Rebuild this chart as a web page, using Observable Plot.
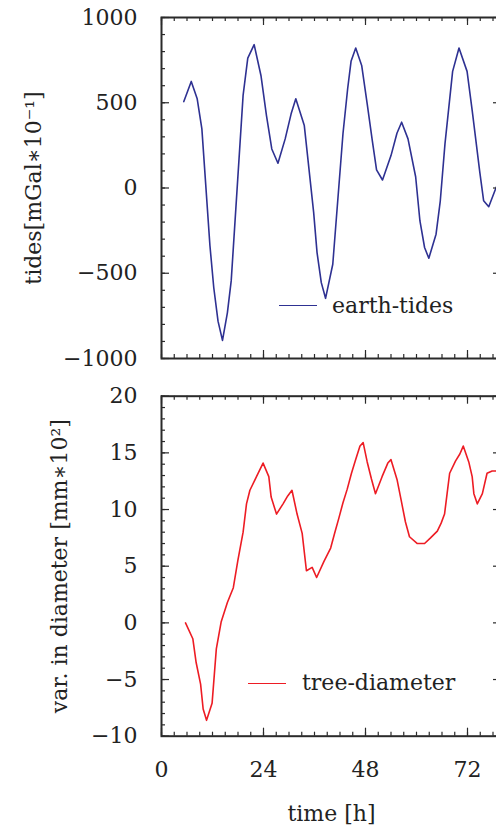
<!DOCTYPE html>
<html><head><meta charset="utf-8">
<script src="https://cdn.jsdelivr.net/npm/d3@7"></script>
<script src="https://cdn.jsdelivr.net/npm/@observablehq/plot@0.6"></script>
<style>
html,body{margin:0;padding:0;background:#fff;overflow:hidden;}
#wrap{position:relative;width:496px;height:830px;overflow:hidden;font-family:"DejaVu Serif",serif;color:#222;}
.panel{position:absolute;left:0;}
.sw{position:absolute;height:0;width:38px;border-top:1.6px solid;}
.lt{position:absolute;font-size:22px;line-height:22px;white-space:nowrap;color:#222;}
</style></head>
<body><div id="wrap"></div>
<script>
// earth tides [mGal*10^-1]
const tideTime  = [5.25,7.0,8.4,9.5,11.4,12.3,13.3,14.35,15.5,16.4,19.2,20.3,21.8,23.4,24.7,25.95,27.4,29.1,30.5,31.6,33.6,35.8,36.6,37.6,38.6,40.3,42.7,43.8,44.6,45.7,47.1,48.4,49.6,50.6,52.0,54.0,55.4,56.5,58.0,59.8,60.8,61.9,62.9,64.6,65.6,66.7,68.5,70.0,71.9,73.1,74.9,75.8,77.0,78.6,79.4];
const tideValue = [507,625,523,347,-339,-585,-781,-894,-732,-545,543,762,841,660,425,229,145,288,435,523,366,-143,-379,-555,-647,-447,318,582,743,821,719,494,278,106,47,190,321,386,288,66,-192,-349,-412,-271,-75,259,684,821,684,455,92,-75,-110,-6,40];
// tree diameter variation [mm*10^2]
const treeTime  = [5.65,7.37,8.15,9.2,9.8,10.6,11.9,12.9,14.05,15.5,16.9,17.96,19.2,20.0,20.8,22.35,23.9,25.25,25.8,27.06,28.6,29.7,30.7,31.9,33.1,34.1,35.45,36.5,38.2,39.8,40.8,41.7,42.7,43.7,44.7,45.6,46.7,47.45,48.4,49.4,50.35,51.9,53.25,54.0,55.45,56.4,57.4,58.35,60.2,61.9,63.3,64.9,65.8,66.6,67.2,67.8,69.2,70.2,71.0,72.3,73.1,73.5,74.3,75.5,76.6,77.8,79.0];
const treeValue = [0,-1.4,-3.5,-5.4,-7.6,-8.6,-7.1,-2.3,0.1,1.8,3.1,5.5,8.0,10.5,11.7,12.9,14.1,12.9,11.1,9.6,10.5,11.2,11.7,9.6,7.9,4.6,4.9,4.0,5.4,6.6,8.0,9.2,10.6,11.8,13.2,14.3,15.6,15.9,14.2,12.7,11.4,12.9,14.1,14.4,12.6,10.8,8.9,7.6,7.0,7.0,7.5,8.1,8.8,9.6,11.4,13.2,14.3,14.9,15.6,14.2,12.9,11.4,10.5,11.4,13.2,13.4,13.4];

const xTicks = [0,24,48,72];
const tideTicks = [-1000,-500,0,500,1000];
const treeTicks = [-10,-5,0,5,10,15,20];
const xLabel = "time [h]";
const tideLabel = "tides[mGal∗10⁻¹]";
const treeLabel = "var. in diameter [mm∗10²]";
const tideName = "earth-tides";
const treeName = "tree-diameter";
const tideColor = "#2e3192";
const treeColor = "#ed1c24";

const W = 502, ML = 161, MR = 1;
const xDomain = [0, 80];
const xMinor = d3.range(0, 81, 3);
const ink = "#2a2a2a";
const fmt = d => d < 0 ? "\u2212" + Math.abs(d) : String(d);

function panel({height, mt, mb, yDomain, yMajor, yMinorStep, time, value, color, yLabel, yLabelDx, showX}) {
  const innerH = height - mt - mb, innerW = W - ML - MR;
  const yMinor = d3.range(yDomain[0], yDomain[1] + yMinorStep / 2, yMinorStep);
  const data = time.map((t, i) => ({t, v: value[i]}));
  const marks = [
    Plot.line(data, {x: "t", y: "v", stroke: color, strokeWidth: 1.6}),
    Plot.ruleX(xMinor, {x: d => d, insetTop: innerH - 4, stroke: ink, strokeWidth: 1.2}),
    Plot.ruleX(xTicks, {x: d => d, insetTop: innerH - 8, stroke: ink, strokeWidth: 1.2}),
    Plot.ruleX(xMinor, {x: d => d, insetBottom: innerH - 4, stroke: ink, strokeWidth: 1.2}),
    Plot.ruleX(xTicks, {x: d => d, insetBottom: innerH - 8, stroke: ink, strokeWidth: 1.2}),
    Plot.ruleY(yMinor, {y: d => d, insetRight: innerW - 4, stroke: ink, strokeWidth: 1.2}),
    Plot.ruleY(yMajor, {y: d => d, insetRight: innerW - 8, stroke: ink, strokeWidth: 1.2}),
    Plot.ruleY(yMinor, {y: d => d, insetLeft: innerW - 4, stroke: ink, strokeWidth: 1.2}),
    Plot.ruleY(yMajor, {y: d => d, insetLeft: innerW - 8, stroke: ink, strokeWidth: 1.2}),
    Plot.frame({stroke: ink, strokeWidth: 2}),
    Plot.axisY({ticks: yMajor, tickSize: 0, tickPadding: 24, tickFormat: fmt, label: null, fill: "#222"}),
    Plot.text([yLabel], {text: d => d, frameAnchor: "left", textAnchor: "middle", rotate: -90, lineAnchor: "bottom", dx: yLabelDx, fill: "#222"})
  ];
  if (showX) {
    marks.push(Plot.axisX({ticks: xTicks, tickSize: 0, tickPadding: 25, tickFormat: fmt, label: null, fill: "#222"}));
    marks.push(Plot.text([xLabel], {text: d => d, frameAnchor: "bottom", textAnchor: "middle", lineAnchor: "bottom", dy: 85, fill: "#222"}));
  }
  return Plot.plot({
    width: W, height,
    marginLeft: ML, marginRight: MR, marginTop: mt, marginBottom: mb,
    x: {domain: xDomain, axis: showX ? undefined : null},
    y: {domain: yDomain},
    style: {fontFamily: "DejaVu Serif, serif", fontSize: "22px", color: "#222", background: "#fff", overflow: "visible", maxWidth: "none"},
    marks
  });
}

const wrap = document.getElementById("wrap");
const topPanel = panel({height: 375, mt: 17, mb: 17, yDomain: [-1000, 1000], yMajor: tideTicks, yMinorStep: 100,
  time: tideTime, value: tideValue, color: tideColor, yLabel: tideLabel, yLabelDx: -121, showX: false});
topPanel.classList.add("panel"); topPanel.style.top = "0px";
wrap.appendChild(topPanel);

const botPanel = panel({height: 455, mt: 20.7, mb: 94.3, yDomain: [-10, 20], yMajor: treeTicks, yMinorStep: 1,
  time: treeTime, value: treeValue, color: treeColor, yLabel: treeLabel, yLabelDx: -95, showX: true});
botPanel.classList.add("panel"); botPanel.style.top = "375px";
wrap.appendChild(botPanel);

function legend(name, color, x, y, tx, tyTop) {
  const s = document.createElement("div");
  s.className = "sw"; s.style.left = x + "px"; s.style.top = y + "px"; s.style.borderTopColor = color;
  const t = document.createElement("div");
  t.className = "lt"; t.style.left = tx + "px"; t.style.top = tyTop + "px"; t.textContent = name;
  wrap.appendChild(s); wrap.appendChild(t);
}
legend(tideName, tideColor, 279, 305, 332, 294.5);
legend(treeName, treeColor, 248, 682.5, 302, 671.5);
</script>
</body></html>
